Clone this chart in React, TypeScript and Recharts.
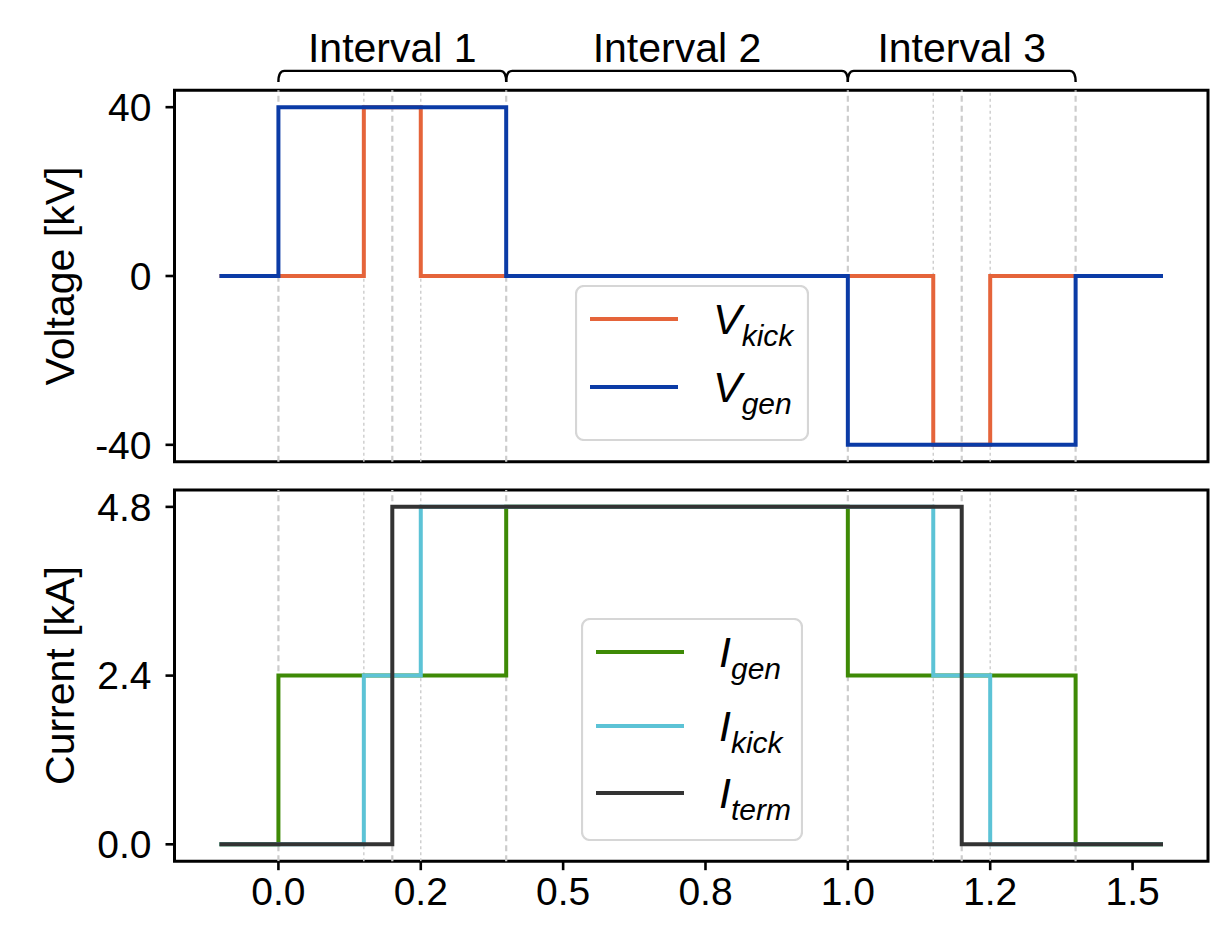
import React from "react";
import { LineChart, Line, XAxis, YAxis, ReferenceLine, ReferenceArea } from "recharts";

const FONT = '"Liberation Sans", Arial, Helvetica, sans-serif';

// shared time axis
const xDomain = [-0.1825, 1.6325];
const xTicks = [0, 0.25, 0.5, 0.75, 1.0, 1.25, 1.5];
const xTickLabels = ["0.0", "0.2", "0.5", "0.8", "1.0", "1.2", "1.5"];

// switching instants drawn as dashed guides
const switchMajor = [0, 0.2, 0.4, 1.0, 1.2, 1.4];
const switchMinor = [0.15, 0.25, 1.15, 1.25];

// interval brackets above the voltage panel
const intervalNames = ["Interval 1", "Interval 2", "Interval 3"];
const intervalStart = [0, 0.4, 1.0];
const intervalEnd = [0.4, 1.0, 1.4];
const bracketLevel = 48.6;

// voltages [kV]
const vKickT = [-0.1, 0.15, 0.25, 1.15, 1.25, 1.55];
const vKickV = [0, 40, 0, -40, 0, 0];
const vGenT = [-0.1, 0, 0.4, 1.0, 1.4, 1.55];
const vGenV = [0, 40, 0, -40, 0, 0];
const vTicks = [-40, 0, 40];
const vDomain = [-44, 44];

// currents [kA]
const iGenT = [-0.1, 0, 0.4, 1.0, 1.4, 1.55];
const iGenV = [0, 2.4, 4.8, 2.4, 0, 0];
const iKickT = [-0.1, 0.15, 0.25, 1.15, 1.25, 1.55];
const iKickV = [0, 2.4, 4.8, 2.4, 0, 0];
const iTermT = [-0.1, 0.2, 1.2, 1.55];
const iTermV = [0, 4.8, 0, 0];
const iTicks = [0, 2.4, 4.8];
const iTickLabels = ["0.0", "2.4", "4.8"];
const iDomain = [-0.24, 5.04];

const toPoints = (ts: number[], vs: number[]) => ts.map((t, i) => ({ t, v: vs[i] }));

const voltageSeries = [
  { sym: "V", sub: "kick", color: "#E5643A", data: toPoints(vKickT, vKickV) },
  { sym: "V", sub: "gen", color: "#0B3BA6", data: toPoints(vGenT, vGenV) },
];
const currentSeries = [
  { sym: "I", sub: "gen", color: "#3E8A06", data: toPoints(iGenT, iGenV) },
  { sym: "I", sub: "kick", color: "#5CC3D6", data: toPoints(iKickT, iKickV) },
  { sym: "I", sub: "term", color: "#333333", data: toPoints(iTermT, iTermV) },
];

const W = 1215;
const PLOT_LEFT = 174.5;
const PLOT_RIGHT = 1208;
const Y_AXIS_W = 60;
const LINE_W = 4;

const tickStyle = { fill: "#000", fontSize: 39, fontFamily: FONT };
const tickLineStyle = { stroke: "#000", strokeWidth: 2.6 };

const Bracket = (p: any) => {
  const { x1, x2, y1, label } = p;
  const drop = 11;
  const r = 6;
  const d = `M${x1},${y1 + drop} Q${x1},${y1} ${x1 + r},${y1} L${x2 - r},${y1} Q${x2},${y1} ${x2},${y1 + drop}`;
  return (
    <g>
      <path d={d} fill="none" stroke="#000" strokeWidth={2.4} />
      <text x={(x1 + x2) / 2} y={y1 - 9} textAnchor="middle" fontFamily={FONT} fontSize={41} fill="#000">
        {label}
      </text>
    </g>
  );
};

function guides() {
  return [
    ...switchMajor.map((t) => (
      <ReferenceLine key={"M" + t} x={t} stroke="#cccccc" strokeWidth={2.2} strokeDasharray="6 4" />
    )),
    ...switchMinor.map((t) => (
      <ReferenceLine key={"m" + t} x={t} stroke="#cccccc" strokeWidth={1.4} strokeDasharray="3 3" />
    )),
  ];
}

function LegendBox({ items, left, top, width, height, rowY }: any) {
  return (
    <svg style={{ position: "absolute", left, top }} width={width} height={height}>
      <rect x={1} y={1} width={width - 2} height={height - 2} rx={8} fill="#fff" fillOpacity={0.8} stroke="#d6d6d6" strokeWidth={2.2} />
      {items.map((s: any, i: number) => (
        <g key={s.sub}>
          <line x1={15} x2={103} y1={rowY[i]} y2={rowY[i]} stroke={s.color} strokeWidth={LINE_W} />
          <text x={138} y={rowY[i] + 15} fontFamily={FONT} fontStyle="italic" fontSize={43} fill="#000">
            {s.sym}
            <tspan dy={12} fontSize={30}>{s.sub}</tspan>
          </text>
        </g>
      ))}
    </svg>
  );
}

function AxisTitle({ text, cy }: { text: string; cy: number }) {
  const x = 74;
  return (
    <text x={x} y={cy} transform={`rotate(-90, ${x}, ${cy})`} textAnchor="middle" fontFamily={FONT} fontSize={41} fill="#000">
      {text}
    </text>
  );
}

function VoltagePanel() {
  const top = 90.3;
  const h = 480;
  const axisH = h - 461.7;
  return (
    <LineChart width={W} height={h} margin={{ top, right: W - PLOT_RIGHT, bottom: 0, left: PLOT_LEFT - Y_AXIS_W }}>
      <XAxis type="number" dataKey="t" domain={xDomain} allowDataOverflow ticks={xTicks} tick={false}
        tickSize={9} height={axisH} axisLine={false} tickLine={tickLineStyle} />
      <YAxis type="number" domain={vDomain} allowDataOverflow ticks={vTicks} width={Y_AXIS_W}
        tickSize={9} tickMargin={14} axisLine={false} tickLine={tickLineStyle} tick={tickStyle} />
      {guides()}
      {intervalNames.map((name, i) => (
        <ReferenceLine key={name} ifOverflow="visible"
          segment={[{ x: intervalStart[i], y: bracketLevel }, { x: intervalEnd[i], y: bracketLevel }]}
          shape={(p: any) => <Bracket {...p} label={name} />} />
      ))}
      <ReferenceArea x1={xDomain[0]} x2={xDomain[1]} y1={vDomain[0]} y2={vDomain[1]}
        fill="none" stroke="#000" strokeWidth={3} ifOverflow="visible" />
      {voltageSeries.map((s) => (
        <Line key={s.sub} data={s.data} dataKey="v" type="stepAfter" stroke={s.color} strokeWidth={LINE_W}
          strokeLinecap="square" dot={false} activeDot={false} isAnimationActive={false} />
      ))}
      <AxisTitle text="Voltage [kV]" cy={(top + 461.7) / 2} />
    </LineChart>
  );
}

function CurrentPanel() {
  const top = 20;
  const h = 455;
  const axisH = 63.8;
  return (
    <LineChart width={W} height={h} margin={{ top, right: W - PLOT_RIGHT, bottom: 0, left: PLOT_LEFT - Y_AXIS_W }}>
      <XAxis type="number" dataKey="t" domain={xDomain} allowDataOverflow ticks={xTicks}
        tickFormatter={(v: number) => xTickLabels[xTicks.indexOf(v)]}
        tickSize={9} tickMargin={7} height={axisH} axisLine={false} tickLine={tickLineStyle} tick={tickStyle} />
      <YAxis type="number" domain={iDomain} allowDataOverflow ticks={iTicks} width={Y_AXIS_W}
        tickFormatter={(v: number) => iTickLabels[iTicks.indexOf(v)]}
        tickSize={9} tickMargin={14} axisLine={false} tickLine={tickLineStyle} tick={tickStyle} />
      {guides()}
      <ReferenceArea x1={xDomain[0]} x2={xDomain[1]} y1={iDomain[0]} y2={iDomain[1]}
        fill="none" stroke="#000" strokeWidth={3} ifOverflow="visible" />
      {currentSeries.map((s) => (
        <Line key={s.sub} data={s.data} dataKey="v" type="stepAfter" stroke={s.color} strokeWidth={LINE_W}
          strokeLinecap="square" dot={false} activeDot={false} isAnimationActive={false} />
      ))}
      <AxisTitle text="Current [kA]" cy={(top + (h - axisH)) / 2} />
    </LineChart>
  );
}

export default function App() {
  return (
    <div style={{ position: "absolute", left: 0, top: 0, width: W, height: 925, background: "#fff", fontFamily: FONT }}>
      <div style={{ position: "absolute", left: 0, top: 0 }}>
        <VoltagePanel />
      </div>
      <div style={{ position: "absolute", left: 0, top: 470 }}>
        <CurrentPanel />
      </div>
      <LegendBox items={voltageSeries} left={575} top={285} width={234} height={156} rowY={[34, 102]} />
      <LegendBox items={currentSeries} left={581} top={618} width={222} height={223} rowY={[34, 108, 175]} />
    </div>
  );
}
